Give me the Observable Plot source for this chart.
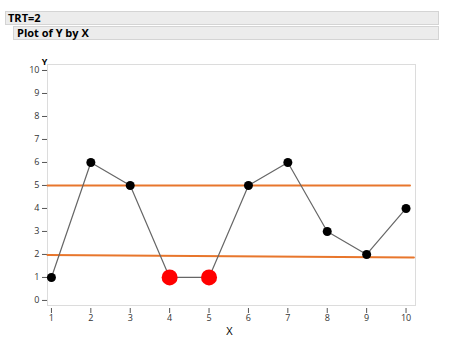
<!DOCTYPE html>
<html><head><meta charset="utf-8">
<script src="https://cdn.jsdelivr.net/npm/d3@7"></script>
<script src="https://cdn.jsdelivr.net/npm/@observablehq/plot@0.6"></script>
<style>
body{margin:0;background:#fff;font-family:"Open Sans",sans-serif;}
#wrap{position:relative;width:450px;height:360px;}
.bar{position:absolute;background:#ececec;border:1px solid #d4d4d4;font-weight:bold;font-size:11px;color:#000;line-height:12px;padding-left:2px;box-sizing:border-box;}
#chart{position:absolute;left:0;top:0;}
</style></head><body>
<div id="wrap">
<div id="chart"></div>
<div class="bar" style="left:5px;top:11px;width:434px;height:14px;">TRT=2</div>
<div class="bar" style="left:13px;top:26px;width:426px;height:14px;padding-left:3px;">Plot of Y by X</div>
</div>
<script>
const xs = [1,2,3,4,5,6,7,8,9,10];
const ys = [1,6,5,1,1,5,6,3,2,4];
const flagged = [false,false,false,true,true,false,false,false,false,false];
const limitX = [0.9, 10.1];
const upperLimit = [5, 5];
const lowerLimitX = [0.9, 10.2];
const lowerLimit = [1.98, 1.87];
const yTicks = [0,1,2,3,4,5,6,7,8,9,10];
const xTicks = [1,2,3,4,5,6,7,8,9,10];

const pts = xs.map((x,i)=>({x, y: ys[i], flag: flagged[i]}));
const upper = limitX.map((x,i)=>({x, y: upperLimit[i]}));
const lower = lowerLimitX.map((x,i)=>({x, y: lowerLimit[i]}));

const chart = Plot.plot({
  width: 450, height: 360,
  marginLeft: 47, marginRight: 35, marginTop: 64, marginBottom: 55,
  style: {fontFamily: "Open Sans, sans-serif", fontSize: "9px", color: "#333", background: "transparent"},
  x: {domain: [0.9, 10.24], ticks: xTicks, tickFormat: d=>d, label: null},
  y: {domain: [-0.22, 10.26], ticks: yTicks, label: null},
  marks: [
    Plot.frame({stroke: "#dcdcdc"}),
    Plot.axisY({ticks: yTicks, tickSize: 5, tickPadding: 3, stroke: "#555", label: null}),
    Plot.axisX({ticks: xTicks, tickSize: 5, tickPadding: 1, stroke: "#555", dy: 3, label: null}),
    Plot.text(["Y"], {frameAnchor: "top-left", dx: -3, dy: -6, fontWeight: "bold", fontSize: 9, fill: "#000", textAnchor: "middle"}),
    Plot.text(["X"], {frameAnchor: "bottom", dy: 29, dx: -2, fontSize: 11, fill: "#000"}),
    Plot.line(upper, {x: "x", y: "y", stroke: "#e8762c", strokeWidth: 2}),
    Plot.line(lower, {x: "x", y: "y", stroke: "#e8762c", strokeWidth: 2}),
    Plot.line(pts, {x: "x", y: "y", stroke: "#666", strokeWidth: 1.2}),
    Plot.dot(pts.filter(d=>!d.flag), {x: "x", y: "y", r: 4.5, fill: "#000"}),
    Plot.dot(pts.filter(d=>d.flag), {x: "x", y: "y", r: 8, fill: "#f00"})
  ]
});
document.getElementById("chart").append(chart);
</script>
</body></html>
